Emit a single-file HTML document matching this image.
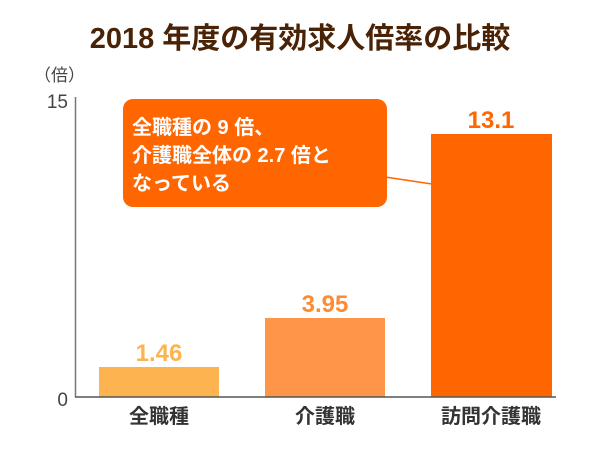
<!DOCTYPE html>
<html><head><meta charset="utf-8"><style>
body{margin:0;background:#fff;}
svg{display:block;font-family:"Liberation Sans","Noto Sans CJK JP",sans-serif;}
</style></head><body>
<svg width="600" height="450" viewBox="0 0 600 450">
<text x="300" y="48" text-anchor="middle" font-size="29" font-weight="bold" fill="#4a2205">2018 年度の有効求人倍率の比較</text>
<text x="34" y="81" font-size="17" fill="#444">（倍）</text>
<text x="68" y="108" text-anchor="end" font-size="19" fill="#444">15</text>
<text x="68" y="406" text-anchor="end" font-size="19" fill="#444">0</text>
<line x1="75.5" y1="97" x2="75.5" y2="397" stroke="#777" stroke-width="1.5"/>
<rect x="99" y="367" width="120" height="30" fill="#fdb350"/>
<rect x="265" y="318" width="120" height="79" fill="#ff9548"/>
<rect x="431" y="134" width="121" height="263" fill="#ff6600"/>
<line x1="75" y1="397" x2="556" y2="397" stroke="#555" stroke-width="1.5"/>
<text x="159" y="361" text-anchor="middle" font-size="24" font-weight="bold" fill="#fdb350">1.46</text>
<text x="325" y="312" text-anchor="middle" font-size="24" font-weight="bold" fill="#ff8a30">3.95</text>
<text x="491" y="128" text-anchor="middle" font-size="24" font-weight="bold" fill="#ff6600">13.1</text>
<text x="159" y="423" text-anchor="middle" font-size="20" font-weight="bold" fill="#333">全職種</text>
<text x="325" y="423" text-anchor="middle" font-size="20" font-weight="bold" fill="#333">介護職</text>
<text x="491" y="423" text-anchor="middle" font-size="20" font-weight="bold" fill="#333">訪問介護職</text>
<line x1="385" y1="177" x2="432" y2="184" stroke="#ff6600" stroke-width="1.5"/>
<rect x="123" y="99" width="264" height="108" rx="10" fill="#ff6600"/>
<g font-size="20" font-weight="bold" fill="#fff">
<text x="132" y="134">全職種の 9 倍、</text>
<text x="132" y="162">介護職全体の 2.7 倍と</text>
<text x="132" y="190">なっている</text>
</g>
</svg>
</body></html>
